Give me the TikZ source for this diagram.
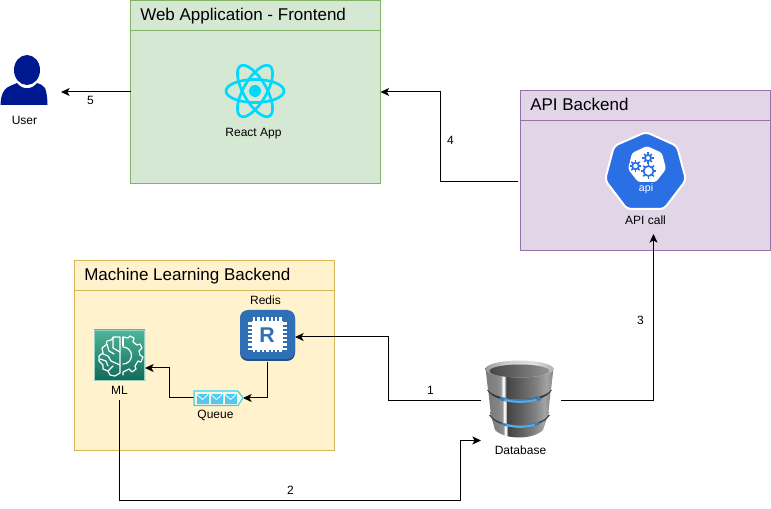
\documentclass[tikz,border=0pt]{standalone}
\usepackage{fontspec}
\setmainfont{Liberation Sans}
\usetikzlibrary{arrows.meta,calc}
\definecolor{gfill}{HTML}{D5E8D4}\definecolor{gline}{HTML}{82B366}
\definecolor{pfill}{HTML}{E1D5E7}\definecolor{pline}{HTML}{9673A6}
\definecolor{yfill}{HTML}{FFF2CC}\definecolor{yline}{HTML}{D6B656}
\definecolor{userblue}{HTML}{00188F}\definecolor{reactc}{HTML}{00D8FF}
\definecolor{kube}{HTML}{2A6FE3}\definecolor{redisc}{HTML}{2E6FB5}\definecolor{redisd}{HTML}{1F4F85}
\definecolor{mltop}{HTML}{4DB69B}\definecolor{mlbot}{HTML}{116A58}
\definecolor{qline}{HTML}{35D3F5}\definecolor{qfill}{HTML}{5CC4EE}
\definecolor{dbglow}{HTML}{5AA9E0}\definecolor{dbglowd}{HTML}{3A7DB8}
\pgfdeclarehorizontalshading{dbbody}{100bp}{
 color(0bp)=(black!52);color(25bp)=(black!52);color(33bp)=(black!48);color(36.5bp)=(black!42);color(37.5bp)=(black!3);color(39bp)=(black!8);
 color(40bp)=(black!74);color(50bp)=(black!64);color(62bp)=(black!50);color(70bp)=(black!36);color(75bp)=(black!48);color(100bp)=(black!48)}
\pgfdeclarehorizontalshading{dbtop}{100bp}{
 color(0bp)=(black!40);color(25bp)=(black!40);color(40bp)=(black!20);color(60bp)=(black!12);color(75bp)=(black!30);color(100bp)=(black!30)}
\pgfdeclarehorizontalshading{dbin}{100bp}{
 color(0bp)=(black!72);color(25bp)=(black!72);color(45bp)=(black!62);color(75bp)=(black!42);color(100bp)=(black!42)}
\tikzset{
 x=0.75pt,y=-0.75pt,
 px/.style={line width=0.75pt},
 box/.style={draw,px,anchor=north west,inner sep=0pt,outer sep=0pt},
 webbox/.style={box,fill=gfill,draw=gline,minimum width=187.5pt,minimum height=137.25pt},
 apibox/.style={box,fill=pfill,draw=pline,minimum width=187.5pt,minimum height=120pt},
 mlbox/.style={box,fill=yfill,draw=yline,minimum width=195pt,minimum height=142.5pt},
 title/.style={anchor=west,inner sep=0pt,text height=10pt,text depth=3pt,font=\fontsize{12.75pt}{15pt}\selectfont},
 lab/.style={inner sep=0pt,font=\fontsize{9pt}{11pt}\selectfont},
 slot/.style={inner sep=0pt,outer sep=0pt,minimum width=#1},
 conn/.style={px,draw=black,-{Stealth[length=6.5pt,width=6pt,inset=1.7pt]}},
 envl/.style={fill=qfill,draw=qline,line width=0.5pt},
}
\newcommand{\envelope}[1]{%
 \draw[envl] (#1,394) rectangle ++(11,9);
 \draw[white,line width=0.6pt] (#1,394.5) -- ++(5.5,5) -- ++(5.5,-5);}
\newcommand{\kgear}[3]{%
 \draw[kube,line width=1.3pt] (#1,#2) circle[radius=#3];
 \foreach \a in {0,45,...,315}{\draw[kube,line width=1.1pt] ([shift={(\a:#3)}]#1,#2) -- ([shift={(\a:#3+2.6)}]#1,#2);}}
% \dbtier{top-left x}{top-right x}{top y}{bottom-left x}{bottom-right x}{bottom y}{sag}
\newcommand{\dbtier}[7]{%
 \shade[shading=dbbody] (#1,#3) -- (#4,#6) .. controls (#4+10,#6+#7) and (#5-10,#6+#7) .. (#5,#6) -- (#2,#3) -- cycle;}
% \dbglowband{left x}{right x}{y}{sag}
\newcommand{\dbglowband}[4]{%
 \fill[black!78] (#1,#3) .. controls (#1+10,#3+#4+4) and (#2-10,#3+#4+4) .. (#2,#3) -- cycle;
 \draw[dbglowd,line width=2.6pt,line cap=round] (#1+14,#3+#4*0.72) .. controls (#1+24,#3+#4*0.95) and (#2-24,#3+#4*0.95) .. (#2-12,#3+#4*0.72);
 \draw[dbglow,line width=1.5pt,line cap=round] (#1+18,#3+#4*0.8+0.5) .. controls (#1+27,#3+#4*0.95+1) and (#2-27,#3+#4*0.95+1) .. (#2-16,#3+#4*0.8+0.5);}
\begin{document}
\begin{tikzpicture}
\useasboundingbox (0,0) rectangle (771,509);
% containers
\node[webbox] (web) at (130.5,0.5) {};
\node[apibox] (api) at (520.5,90.5) {};
\node[mlbox] (mlb) at (74.5,260.5) {};
\draw[px,gline] (130.5,30.5) -- (380.5,30.5);
\draw[px,pline] (520.5,120.5) -- (770.5,120.5);
\draw[px,yline] (74.5,290.5) -- (334.5,290.5);
\node[title] (webt) at (140,16) {Web Application - Frontend};
\node[title] (apit) at (530,106) {API Backend};
\node[title] (mlt) at (84,276) {Machine Learning Backend};
% icon slots
\node[slot=45pt,minimum height=37.5pt] (user) at (24,80) {};
\node[slot=45pt,minimum height=45pt] (react) at (255,91) {};
\node[slot=60pt,minimum height=60pt] (kubeicon) at (645.5,171) {};
\node[slot=41.25pt,minimum height=37.5pt] (redis) at (267.5,337) {};
\node[slot=38.25pt,minimum height=48pt] (mlicon) at (119.5,368) {};
\node[slot=36.75pt,minimum height=11.25pt] (queue) at (218.5,398) {};
\node[slot=60pt,minimum height=60pt] (db) at (521,400.5) {};
\coordinate (uin) at (61,92);
\coordinate (aout) at (518,182);
\coordinate (ain) at (653.5,234);
\coordinate (turn) at (460.5,500.5);
% labels
\node[lab] (lu) at (24.5,120) {User};
\node[lab] (lr) at (253.5,134) {React App};
\node[lab] (la) at (645.5,220) {API call};
\node[lab] (lre) at (265.5,300) {Redis};
\node[lab] (lm) at (119.5,390) {ML};
\node[lab] (lq) at (215.5,415) {Queue};
\node[lab] (ld) at (520.5,450) {Database};
\node[lab] (n5) at (90.5,100) {5};
\node[lab] (n4) at (450.5,140) {4};
\node[lab] (n3) at (640.5,320) {3};
\node[lab] (n1) at (430.5,390) {1};
\node[lab] (n2) at (290.5,490) {2};
% connectors
\draw[conn] (web.west |- uin) -- (uin);
\draw[conn] (aout) -- ++(-77.5,0) |- (web.east |- uin);
\draw[conn] (db.east) -| (ain);
\draw[conn] (db.west) -- ++(-92.5,0) |- (redis.east);
\draw[conn] (mlicon.south) |- (turn) |- (db.south west);
\draw[conn] (redis.south) |- (queue.east);
\draw[conn] (queue.west) -- ++(-25,0) |- (mlicon.east);
% user
\fill[userblue] (27,70) ellipse[x radius=13,y radius=15];
\fill[userblue] (0.5,105) .. controls (1,95) and (3,90) .. (8,87) .. controls (12,85) and (15,84) .. (17,83)
  .. controls (22,90) and (32,90) .. (37,83) .. controls (40,84) and (43,85) .. (45,88)
  .. controls (47,93) and (47.5,100) .. (47.5,105) -- cycle;
% react
\begin{scope}[shift={(255,91)}]
\foreach \r in {0,60,120}{\draw[reactc,line width=2pt,rotate=\r] (0,0) ellipse[x radius=29,y radius=11.5];}
\fill[reactc] (0,0) circle[radius=6];
\end{scope}
% kubernetes api
\filldraw[kube,draw=white,line width=1.5pt,line join=round,rounded corners=3pt]
 (646,132) -- (677,146) -- (686,180) -- (664,209) -- (627,209) -- (605,180) -- (614,146) -- cycle;
\fill[white,rounded corners=2pt] (647,146) -- (662,153) -- (666,169) -- (656,182) -- (638,182) -- (628,169) -- (632,153) -- cycle;
\kgear{648}{158}{3}
\kgear{635.5}{166}{3.3}
\kgear{648.5}{171}{5}
\node[text=white,inner sep=0pt,font=\fontsize{8pt}{9pt}\selectfont] (kapi) at (646,189) {api};
% redis
\fill[redisd,rounded corners=6pt] (240,311) rectangle (295,361);
\fill[redisc,rounded corners=6pt] (240,310) rectangle (295,359);
\fill[white] (252,321) rectangle (283,349);
\foreach \i in {0,1,...,6}{
 \fill[white] (253+\i*4.4,317) rectangle ++(2.4,35);
 \fill[white] (248,322.5+\i*4.2) rectangle ++(39,2.2);}
\node[text=redisc,inner sep=0pt,font=\fontsize{16pt}{18pt}\selectfont\bfseries] (rr) at (267,335) {R};
% ML
\shade[top color=mltop,bottom color=mlbot] (94,330) rectangle (145,381);
\draw[px,mltop!60!white] (94.5,330.5) rectangle (144.5,380.5);
\begin{scope}[white,line width=0.9pt,line join=round,line cap=round]
\draw (120,337) -- (114,337) -- (111,340) -- (107,341) -- (106,345) -- (102,348) -- (103,353) -- (99,356) -- (99,361)
 -- (103,365) -- (103,369) -- (108,371) -- (110,375) -- (115,376) -- (120,373) -- cycle;
\draw (113,337) -- (113,348) -- (120,352);
\draw (107,344) -- (109,351) -- (114,354);
\draw (103,354) -- (108,356) -- (111,361) -- (120,365);
\draw (100,359) -- (106,361) -- (108,366);
\draw (108,371) -- (113,366);
\draw (123,337) -- (128,338) -- (130,336) -- (134,338) -- (133,342) -- (137,345) -- (140,344) -- (142,348) -- (139,351)
 -- (140,355) -- (143,357) -- (141,362) -- (138,361) -- (135,366) -- (136,369) -- (132,372) -- (129,369) -- (123,372) -- (123,375);
\draw (123,337) -- (123,346);
\draw (123,347) arc (-90:90:8.5);
\end{scope}
% queue
\draw[qline,fill=yfill!80!white,line width=0.9pt,line join=round] (194,391) -- (238,391) -- (243,398) -- (238,405.5) -- (194,405.5) -- cycle;
\envelope{197}\envelope{211}\envelope{225}
% database: drawn from the lowest tier upward
\dbtier{490}{549}{412}{495}{543}{430}{10}
\dbglowband{489}{550}{415}{12}
\dbtier{488}{551}{388}{491}{548}{416}{12}
\dbglowband{487}{552}{390}{12}
\dbtier{485.5}{553.5}{368}{488}{551}{390}{12}
\shade[shading=dbtop] (519.5,369) ellipse[x radius=34,y radius=8.5];
\shade[shading=dbin] (519.5,371) ellipse[x radius=30,y radius=6.5];
\end{tikzpicture}
\end{document}
